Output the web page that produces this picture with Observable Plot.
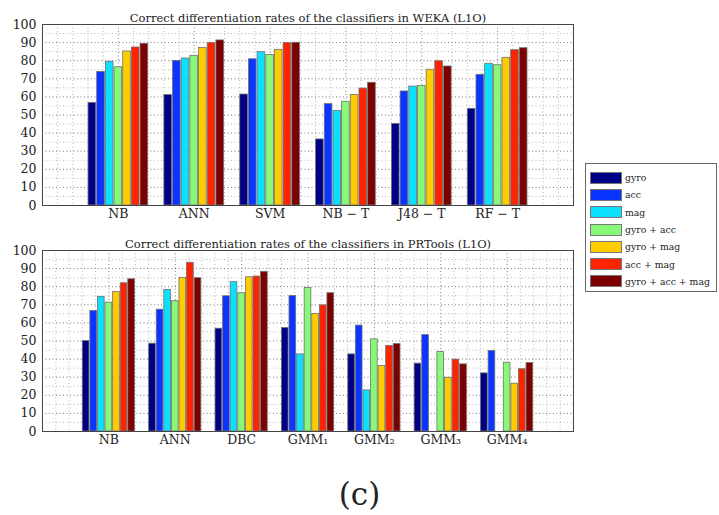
<!DOCTYPE html>
<html><head><meta charset="utf-8">
<script src="https://cdn.jsdelivr.net/npm/d3@7"></script>
<script src="https://cdn.jsdelivr.net/npm/@observablehq/plot@0.6"></script>
<style>
body{margin:0;background:#fff;}
#wrap{position:relative;width:719px;height:515px;font-family:"DejaVu Serif",serif;color:#222;}
.pl{position:absolute;left:0;}
#legend{position:absolute;left:585px;top:163px;width:132px;height:129px;border:1px solid #666;box-sizing:border-box;padding:5px 0 0 4px;}
.row{display:flex;align-items:center;height:17.3px;font-size:9.3px;white-space:nowrap;}
.sw{width:32px;height:12px;margin-right:3px;box-sizing:border-box;border:1px solid #777;flex:none;}
#cap{position:absolute;left:0;width:719px;top:476px;text-align:center;font-size:31px;font-family:"DejaVu Serif",serif;}
</style></head><body><div id="wrap"><div id="top" class="pl" style="top:0"></div><div id="bot" class="pl" style="top:225px"></div><div id="legend"></div><div id="cap">(c)</div></div>
<script>
const series = ["gyro","acc","mag","gyro + acc","gyro + mag","acc + mag","gyro + acc + mag"];
const colors = ["#000086","#0a34ff","#0ce0ff","#88f878","#ffcc00","#ff2400","#7c0000"];

// WEKA
const wekaTitle = "Correct differentiation rates of the classifiers in WEKA (L1O)";
const wekaCats = ["NB","ANN","SVM","NB − T","J48 − T","RF − T"];
const wekaGyro = [56.7, 61.0, 61.3, 36.5, 45.1, 53.4];
const wekaAcc = [73.8, 79.9, 80.8, 56.0, 63.0, 72.2];
const wekaMag = [79.4, 81.2, 84.7, 52.3, 65.7, 78.3];
const wekaGyroAcc = [76.4, 82.7, 83.2, 57.3, 66.1, 77.5];
const wekaGyroMag = [85.1, 87.1, 86.0, 61.1, 75.0, 81.6];
const wekaAccMag = [87.3, 89.7, 89.7, 64.6, 79.7, 85.8];
const wekaAll = [89.3, 91.2, 89.9, 67.8, 76.8, 86.9];

// PRTools
const prTitle = "Correct differentiation rates of the classifiers in PRTools (L1O)";
const prCats = ["NB","ANN","DBC","GMM₁","GMM₂","GMM₃","GMM₄"];
const prGyro = [50.0, 48.5, 56.8, 57.2, 42.6, 37.5, 32.1];
const prAcc = [66.6, 67.3, 74.7, 74.9, 58.5, 53.3, 44.5];
const prMag = [74.4, 78.2, 82.5, 42.6, 22.7, null, null];
const prGyroAcc = [71.2, 72.0, 76.4, 79.3, 50.9, 43.9, 38.0];
const prGyroMag = [77.1, 84.9, 85.2, 64.9, 36.2, 29.7, 26.4];
const prAccMag = [81.9, 93.2, 85.6, 69.7, 47.2, 39.7, 34.4];
const prAll = [84.1, 84.7, 88.2, 76.4, 48.3, 37.1, 37.8];

const yTicks = d3.range(0, 101, 10);

function build(cats, vals) {
  const rows = [];
  const slot = 0.8 / series.length;
  vals.forEach((arr, j) => arr.forEach((v, i) => {
    if (v == null) return;
    const x1 = (i + 1) - 0.4 + j * slot + slot * 0.06;
    rows.push({cat: cats[i], s: series[j], v, x1, x2: x1 + slot * 0.88});
  }));
  return rows;
}

function chart(cats, vals, title, h, mt, mb) {
  const n = cats.length;
  const rows = build(cats, vals);
  const minorX = d3.range(0, (n + 1) * 5 + 1).map(k => k / 5).filter(x => Math.abs(x - Math.round(x)) > 1e-6);
  const majorX = d3.range(1, n + 1);
  const minorY = d3.range(5, 100, 10);
  return Plot.plot({
    width: 580, height: h,
    marginLeft: 42, marginRight: 7, marginTop: mt, marginBottom: mb,
    style: {fontFamily: "DejaVu Serif, serif", fontSize: "12.5px", color: "#222", background: "transparent", overflow: "visible"},
    x: {type: "linear", domain: [0, n + 1], label: null},
    y: {domain: [0, 100], label: null},
    color: {domain: series, range: colors},
    marks: [
      Plot.ruleX(minorX, {stroke: "#999", strokeDasharray: "1,2.5", strokeWidth: 0.7}),
      Plot.ruleX(majorX, {stroke: "#666", strokeDasharray: "1,2.5", strokeWidth: 0.8}),
      Plot.ruleY(minorY, {stroke: "#999", strokeDasharray: "1,2.5", strokeWidth: 0.7}),
      Plot.ruleY(yTicks.slice(1, -1), {stroke: "#555", strokeDasharray: "1,2.5", strokeWidth: 0.8}),
      Plot.rectY(rows, {x1: "x1", x2: "x2", y1: 0, y2: "v", fill: "s", stroke: "#707070", strokeWidth: 0.8}),
      Plot.frame({stroke: "#444", strokeWidth: 1}),
      Plot.axisY({ticks: yTicks, tickSize: 0, tickPadding: 6, fontSize: 12.5, label: null}),
      Plot.axisX({ticks: majorX, tickFormat: d => cats[d - 1], tickSize: 0, tickPadding: 4, fontSize: 12.5, label: null}),
      Plot.text([title], {frameAnchor: "top", dy: -11, fontSize: 11.5, fill: "#222"})
    ]
  });
}

document.getElementById("top").append(
  chart(wekaCats, [wekaGyro, wekaAcc, wekaMag, wekaGyroAcc, wekaGyroMag, wekaAccMag, wekaAll], wekaTitle, 225, 24, 20));
document.getElementById("bot").append(
  chart(prCats, [prGyro, prAcc, prMag, prGyroAcc, prGyroMag, prAccMag, prAll], prTitle, 235, 25, 29));

const leg = document.getElementById("legend");
series.forEach((s, j) => {
  const r = document.createElement("div");
  r.className = "row";
  r.innerHTML = `<div class="sw" style="background:${colors[j]}"></div><span>${s}</span>`;
  leg.append(r);
});
</script>
</body></html>
